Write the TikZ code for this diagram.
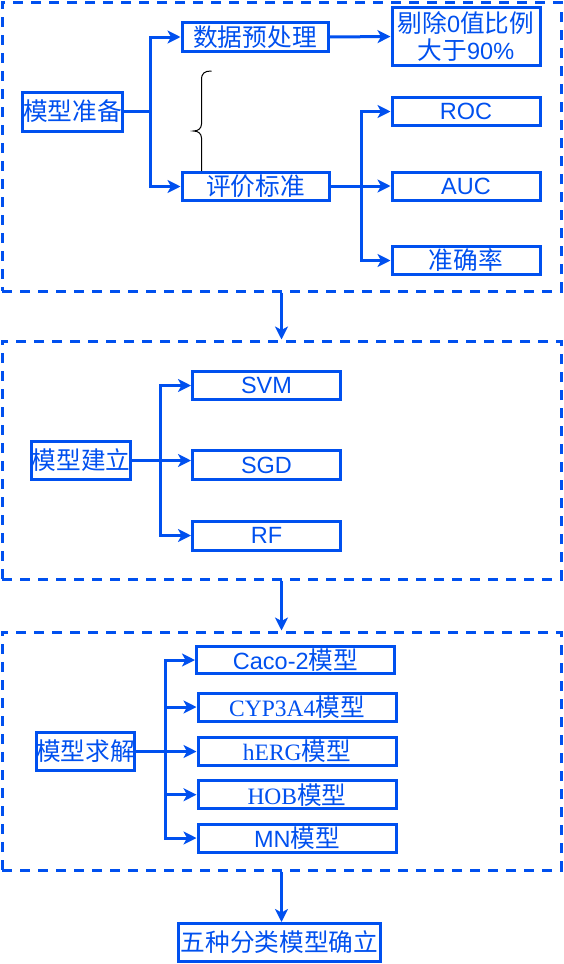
\documentclass[tikz,border=0pt]{standalone}
\usepackage{fontspec}
\setmainfont{Liberation Sans}
\newfontfamily\cjk[Scale=1.05]{Noto Sans CJK SC}
\newfontfamily\tnr{Liberation Serif}
\usetikzlibrary{arrows.meta}
\definecolor{dblue}{RGB}{0,80,239}
\begin{document}
\begin{tikzpicture}[x=1pt,y=-1pt,
  box/.style={draw=dblue,line width=3pt,text=dblue,inner sep=0pt,align=center,
    font=\fontsize{23.5pt}{27pt}\selectfont},
  sec/.style={draw=dblue,line width=3pt,dash pattern=on 10pt off 8pt,inner sep=0pt},
  arr/.style={draw=dblue,line width=3pt,-{Stealth[length=13pt,width=13pt,inset=3.5pt]}},
  ln/.style={draw=dblue,line width=3pt}]
\useasboundingbox (0,0) rectangle (563,964);
% sections
\node[sec,minimum width=559pt,minimum height=289pt] (s1) at (281.5,146.5) {};
\node[sec,minimum width=559pt,minimum height=238pt] (s2) at (281.5,460) {};
\node[sec,minimum width=559pt,minimum height=238pt] (s3) at (281.5,751) {};
% section 1
\node[box,minimum width=100pt,minimum height=39pt] (prep) at (72.5,111.5) {\cjk 模型准备};
\node[box,minimum width=146pt,minimum height=29pt] (dp) at (255,37) {\cjk 数据预处理};
\node[box,minimum width=148pt,minimum height=58pt] (rm) at (466,36.5) {{\cjk 剔除}0{\cjk 值比例}\\{\cjk 大于}90\%};
\node[box,minimum width=147pt,minimum height=28pt] (ev) at (255.5,186.5) {\cjk 评价标准};
\node[box,minimum width=148pt,minimum height=28pt] (roc) at (466,111.5) {ROC};
\node[box,minimum width=148pt,minimum height=28pt] (auc) at (466,186) {AUC};
\node[box,minimum width=148pt,minimum height=28pt] (acc) at (466,260.5) {\cjk 准确率};
\coordinate (j1) at (150,111.5);
\coordinate (j2) at (361,186.5);
\draw[ln] (prep.east) -- (j1);
\draw[arr] (j1) |- (dp.west);
\draw[arr] (j1) |- (ev.west);
\draw[arr] (dp.east) -- (rm.west);
\draw[ln] (ev.east) -- (j2);
\draw[arr] (j2) |- (roc.west);
\draw[arr] (j2) |- (auc.west);
\draw[arr] (j2) |- (acc.west);
% brace
\draw[black,line width=1pt] (211.5,71) .. controls (204.5,71) and (201.5,73) .. (201.5,80)
  -- (201.5,124) .. controls (201.5,128.5) and (198,131) .. (193.5,131)
  .. controls (198,131) and (201.5,133.5) .. (201.5,138) -- (201.5,171);
% section 2
\node[box,minimum width=97pt,minimum height=38pt] (build) at (81,460.5) {\cjk 模型建立};
\node[box,minimum width=148pt,minimum height=28pt] (svm) at (266.5,385.5) {SVM};
\node[box,minimum width=148pt,minimum height=29pt] (sgd) at (266.5,465) {SGD};
\node[box,minimum width=148pt,minimum height=29pt] (rf) at (266.5,535.5) {RF};
\coordinate (j3) at (160,460.5);
\draw[ln] (build.east) -- (j3);
\draw[arr] (j3) |- (svm.west);
\draw[arr] (j3) -- (j3 -| sgd.west);
\draw[arr] (j3) |- (rf.west);
% section 3
\node[box,minimum width=98pt,minimum height=38pt] (solve) at (85.5,751.5) {\cjk 模型求解};
\node[box,minimum width=198pt,minimum height=27pt] (caco) at (295.5,660) {Caco-2{\cjk 模型}};
\node[box,minimum width=198pt,minimum height=28pt] (cyp) at (297,707) {{\tnr CYP3A4}{\cjk 模型}};
\node[box,minimum width=198pt,minimum height=28pt] (herg) at (297,751.5) {{\tnr hERG}{\cjk 模型}};
\node[box,minimum width=198pt,minimum height=28pt] (hob) at (297,794.7) {{\tnr HOB}{\cjk 模型}};
\node[box,minimum width=198pt,minimum height=28pt] (mn) at (297,838) {MN{\cjk 模型}};
\coordinate (j4) at (165,751.5);
\draw[ln] (solve.east) -- (j4);
\draw[arr] (j4) |- (caco.west);
\draw[arr] (j4) |- (cyp.west);
\draw[arr] (j4) -- (herg.west);
\draw[arr] (j4) |- (hob.west);
\draw[arr] (j4) |- (mn.west);
% final
\node[box,minimum width=202pt,minimum height=38pt] (fin) at (279.5,942.5) {\cjk 五种分类模型确立};
% section arrows
\draw[arr] (s1.south) -- (s2.north);
\draw[arr] (s2.south) -- (s3.north);
\draw[arr] (s3.south) -- (s3.south |- fin.north);
\end{tikzpicture}
\end{document}
